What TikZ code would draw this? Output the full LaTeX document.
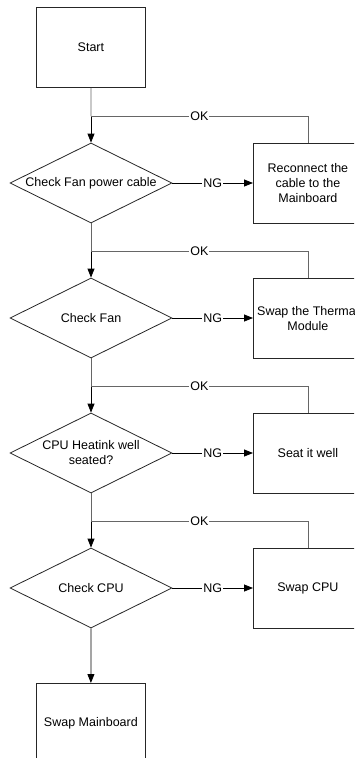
\documentclass[tikz,border=0pt]{standalone}
\usepackage{fontspec}
\setmainfont{Liberation Sans}
\usetikzlibrary{shapes.geometric,arrows.meta}
\begin{document}
\begin{tikzpicture}[x=1pt,y=-1pt,
  font=\fontsize{12.5}{15}\selectfont,
  box/.style={draw=black!85, line width=0.8pt, minimum width=109pt, minimum height=80pt, inner sep=0pt, align=center, anchor=north west},
  dia/.style={draw=black!85, line width=0.8pt, diamond, aspect=2.025, minimum width=162pt, minimum height=80pt, inner sep=0pt, align=center},
  okline/.style={draw=black!60, line width=0.8pt},
  flow/.style={draw=black, line width=0.8pt, -{Triangle[length=9pt,width=7pt]}},
  lbl/.style={fill=white, inner sep=1pt}
]
\clip (0,0) rectangle (354,758);
\fill[white] (0,0) rectangle (354,758);
\node[box] (start) at (36,7) {Start};
% diamonds (center y)
\node[dia] (d1) at (91,183) {Check Fan power cable};
\node[dia] (d2) at (91,318) {Check Fan};
\node[dia] (d3) at (91,453) {CPU Heatink well\\seated?};
\node[dia] (d4) at (91,588) {Check CPU};
% right boxes
\node[box] (r1) at (253,143) {Reconnect the\\cable to the\\Mainboard};
\node[box] (r2) at (253,278) {Swap the Thermal\\Module};
\node[box] (r3) at (253,413) {Seat it well};
\node[box] (r4) at (253,548) {Swap CPU};
\node[box] (end) at (36,683) {Swap Mainboard};
% junctions
\coordinate (j1) at (91,116);
\coordinate (j2) at (91,251);
\coordinate (j3) at (91,386);
\coordinate (j4) at (91,521);
% vertical flow
\draw[okline] (start.south) -- (j1);
\draw[flow] (j1) -- (d1.north);
\draw[okline] (d1.south) -- (j2);
\draw[flow] (j2) -- (d2.north);
\draw[okline] (d2.south) -- (j3);
\draw[flow] (j3) -- (d3.north);
\draw[okline] (d3.south) -- (j4);
\draw[flow] (j4) -- (d4.north);
\draw[flow] (d4.south) -- (end.north);
% OK loops
\foreach \r/\j in {r1/j1,r2/j2,r3/j3,r4/j4}{
  \draw[okline] (\r.north) |- (\j) node[pos=0.75, lbl] {OK};
}
% NG arrows
\foreach \d/\r in {d1/r1,d2/r2,d3/r3,d4/r4}{
  \draw[flow] (\d.east) -- (\r.west |- \d.east) node[midway, lbl] {NG};
}
\end{tikzpicture}
\end{document}
